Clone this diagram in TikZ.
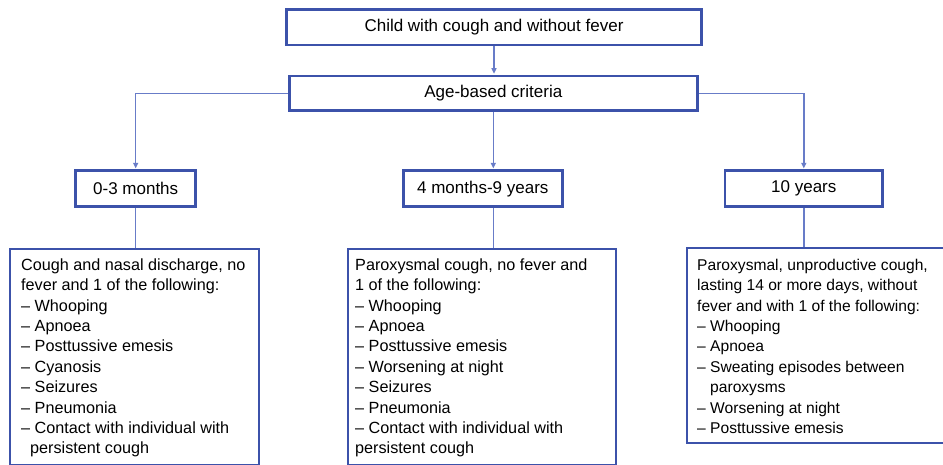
\documentclass[tikz,border=0pt]{standalone}
\usepackage{fontspec}
\setmainfont{Liberation Sans}
\usetikzlibrary{arrows.meta}
\definecolor{boxblue}{RGB}{60,82,170}
\definecolor{lineblue}{RGB}{104,124,200}
\begin{document}
\begin{tikzpicture}[x=1pt,y=-1pt,
  box/.style={draw=boxblue, line width=2.6pt, rectangle, inner sep=0pt, fill=white},
  lab/.style={font=\fontsize{17}{20}\selectfont, text=black},
  body/.style={anchor=north west, inner sep=0pt, align=left, text=black,
    font=\fontsize{16.2}{20.4}\selectfont},
  conn/.style={draw=lineblue, line width=1.4pt},
  arr/.style={conn, -{Triangle[length=5.5pt,width=5pt]}, shorten >=1pt}]
\path[use as bounding box] (0,0) rectangle (943,464);
\clip (0,0) rectangle (943,464);
\fill[white] (0,0) rectangle (943,464);

% top level
\node[box, minimum width=415pt, minimum height=35.5pt, lab] (top) at (494,27.3) {Child with cough and without fever};
\node[box, minimum width=408pt, minimum height=34.7pt, lab] (age) at (493.3,93.3) {Age-based criteria};

% age groups
\node[box, minimum width=120pt, minimum height=36pt, lab] (g1) at (135.7,188.7) {0-3 months};
\node[box, minimum width=159pt, minimum height=36pt, lab] (g2) at (482.8,188.7) {4 months-9 years};
\node[box, minimum width=157.7pt, minimum height=36pt, lab] (g3) at (803.8,188.7) {10 years};

% criteria boxes
\node[box, line width=2pt, minimum width=249.3pt, minimum height=216pt] (c1) at (134.7,357) {};
\node[box, line width=2pt, minimum width=267.7pt, minimum height=216pt] (c2) at (482.2,357) {};
\node[box, line width=2pt, minimum width=280pt, minimum height=195pt] (c3) at (827.3,345.8) {};

\node[body] (t1) at (21,258.4) {Cough and nasal discharge, no\\fever and 1 of the following:\\– Whooping\\– Apnoea\\– Posttussive emesis\\– Cyanosis\\– Seizures\\– Pneumonia\\– Contact with individual with\\\hspace*{9pt}persistent cough};
\node[body] (t2) at (355,258.4) {Paroxysmal cough, no fever and\\1 of the following:\\– Whooping\\– Apnoea\\– Posttussive emesis\\– Worsening at night\\– Seizures\\– Pneumonia\\– Contact with individual with\\persistent cough};
\node[body, font=\fontsize{15.6}{20.4}\selectfont] (t3) at (697,258.8) {Paroxysmal, unproductive cough,\\lasting 14 or more days, without\\fever and with 1 of the following:\\– Whooping\\– Apnoea\\– Sweating episodes between\\\phantom{– }paroxysms\\– Worsening at night\\– Posttussive emesis};

% connectors
\draw[arr] (top.south) -- (top.south |- age.north);
\draw[arr] (age.west) -| (g1.north);
\draw[arr] (age.east) -| (g3.north);
\draw[arr] (age.south) -- (age.south |- g2.north);
\draw[conn] (g1.south) -- (g1.south |- c1.north);
\draw[conn] (age.south |- g2.south) -- (age.south |- c2.north);
\draw[conn] (g3.south) -- (g3.south |- c3.north);
\end{tikzpicture}
\end{document}
